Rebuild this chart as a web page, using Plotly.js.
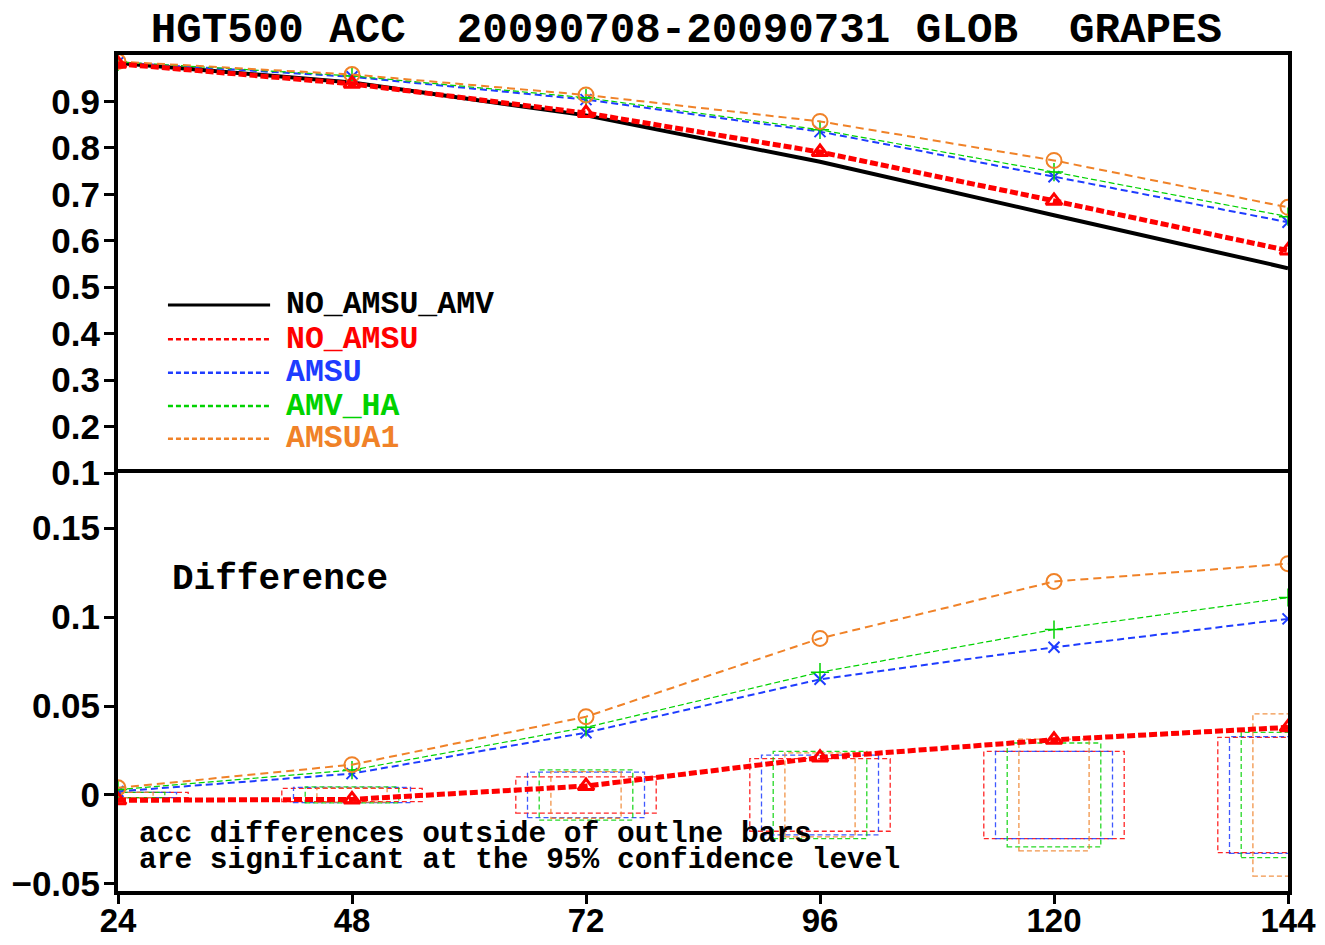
<!DOCTYPE html>
<html>
<head>
<meta charset="utf-8">
<script src="https://cdn.plot.ly/plotly-3.0.1.min.js"></script>
<style>
  html, body { margin: 0; padding: 0; background: #ffffff; }
  #chart { width: 1325px; height: 945px; }
</style>
</head>
<body>
<div id="chart"></div>
<script>
// Forecast lead times (hours)
const leads = [24, 48, 72, 96, 120, 144];

// Anomaly correlation of 500 hPa height for each experiment
const accNoAmsuAmv = [0.983, 0.941, 0.870, 0.770, 0.655, 0.541];
const accNoAmsu    = [0.981, 0.938, 0.875, 0.791, 0.686, 0.579];
const accAmsu      = [0.984, 0.953, 0.904, 0.835, 0.738, 0.640];
const accAmvHa     = [0.985, 0.955, 0.908, 0.839, 0.748, 0.652];
const accAmsua1    = [0.986, 0.958, 0.914, 0.857, 0.773, 0.672];

// Differences from the NO_AMSU_AMV run
const diffNoAmsu   = [-0.003, -0.0025, 0.005, 0.021, 0.031, 0.038];
const diffAmsu     = [0.002, 0.012, 0.035, 0.065, 0.083, 0.099];
const diffAmvHa    = [0.003, 0.014, 0.038, 0.069, 0.093, 0.111];
const diffAmsua1   = [0.004, 0.017, 0.044, 0.088, 0.120, 0.130];

// 95% confidence half-ranges (outline bars centred on zero)
const confNoAmsu   = [0.0015, 0.0037, 0.0102, 0.0204, 0.0245, 0.0324];
const confAmsu     = [0.0015, 0.0043, 0.0128, 0.0224, 0.0245, 0.0328];
const confAmvHa    = [0.0015, 0.0045, 0.0141, 0.0245, 0.0292, 0.0352];
const confAmsua1   = [0.0015, 0.0040, 0.0131, 0.0236, 0.0314, 0.0456];

// Series names and axis ticks
const names = ["NO_AMSU_AMV", "NO_AMSU", "AMSU", "AMV_HA", "AMSUA1"];
const accTicks  = [0.1, 0.2, 0.3, 0.4, 0.5, 0.6, 0.7, 0.8, 0.9];
const diffTicks = [-0.05, 0, 0.05, 0.1, 0.15];

const C = {
  black:  "#000000",
  red:    "#ff0000",
  blue:   "#1e3cff",
  green:  "#00d200",
  orange: "#f08228"
};

const styles = {
  "NO_AMSU_AMV": { color: C.black,  width: 4,   dash: "solid",   symbol: null },
  "NO_AMSU":     { color: C.red,    width: 5,   dash: "8px,3px", symbol: "triangle-up-open", msize: 14, mline: 3 },
  "AMSU":        { color: C.blue,   width: 2,   dash: "7px,4px", symbol: "x-thin-open",      msize: 11, mline: 2 },
  "AMV_HA":      { color: C.green,  width: 1.2, dash: "6px,3px", symbol: "cross-thin-open",  msize: 13, mline: 1.5 },
  "AMSUA1":      { color: C.orange, width: 2,   dash: "8px,5px", symbol: "circle-open",      msize: 15, mline: 2 }
};

function line(name, x, y, xa, ya) {
  const s = styles[name];
  const tr = {
    type: "scatter", x: x, y: y, xaxis: xa, yaxis: ya, name: name,
    mode: s.symbol ? "lines+markers" : "lines",
    line: { color: s.color, width: s.width, dash: s.dash },
    showlegend: false, hoverinfo: "skip"
  };
  if (s.symbol) {
    tr.marker = { symbol: s.symbol, size: s.msize, color: s.color,
                  line: { color: s.color, width: s.mline } };
  }
  return tr;
}

const traces = [
  // upper panel: ACC
  line("NO_AMSU_AMV", leads, accNoAmsuAmv, "x2", "y2"),
  line("AMSU",        leads, accAmsu,      "x2", "y2"),
  line("AMV_HA",      leads, accAmvHa,     "x2", "y2"),
  line("AMSUA1",      leads, accAmsua1,    "x2", "y2"),
  line("NO_AMSU",     leads, accNoAmsu,    "x2", "y2"),
  // lower panel: differences
  line("AMSU",        leads, diffAmsu,     "x", "y"),
  line("AMV_HA",      leads, diffAmvHa,    "x", "y"),
  line("AMSUA1",      leads, diffAmsua1,   "x", "y"),
  line("NO_AMSU",     leads, diffNoAmsu,   "x", "y")
];

// Outline bars: one dashed box per experiment and lead time,
// nested horizontally around the lead time (half-width in hours).
const boxSets = [
  { conf: confNoAmsu, color: C.red,    half: 7.2 },
  { conf: confAmsu,   color: C.blue,   half: 6.0 },
  { conf: confAmvHa,  color: C.green,  half: 4.8 },
  { conf: confAmsua1, color: C.orange, half: 3.6 }
];
const shapes = [];
boxSets.forEach(b => {
  leads.forEach((t, i) => {
    shapes.push({
      type: "rect", xref: "x", yref: "y", layer: "below",
      x0: t - b.half, x1: t + b.half, y0: -b.conf[i], y1: b.conf[i],
      line: { color: b.color, width: 1.3, dash: "5px,3px" },
      opacity: 0.85, fillcolor: "rgba(0,0,0,0)"
    });
  });
});

// Key in the upper panel: sample line plus coloured label
const keyRows = [0.701, 0.660, 0.620, 0.580, 0.541];
const keyColors = [C.black, C.red, C.blue, C.green, C.orange];
const keyDash = ["solid", "5px,3px", "5px,3px", "5px,3px", "5px,3px"];
const annotations = [];
names.forEach((n, i) => {
  shapes.push({
    type: "line", xref: "paper", yref: "paper", layer: "above",
    x0: 0.0427, x1: 0.130, y0: keyRows[i], y1: keyRows[i],
    line: { color: keyColors[i], width: i === 0 ? 3 : 2.5, dash: keyDash[i] }
  });
  annotations.push({
    xref: "paper", yref: "paper", x: 0.1415, y: keyRows[i],
    xanchor: "left", yanchor: "middle", showarrow: false, text: n,
    font: { family: "Liberation Mono", size: 31.5, color: keyColors[i], weight: "bold" }
  });
});

annotations.push({
  xref: "paper", yref: "paper", x: 0.0444, y: 0.373,
  xanchor: "left", yanchor: "middle", showarrow: false, text: "Difference",
  font: { family: "Liberation Mono", size: 36, color: "#000", weight: "bold" }
});
annotations.push({
  xref: "paper", yref: "paper", x: 0.0165, y: 0.068,
  xanchor: "left", yanchor: "middle", showarrow: false,
  text: "acc differences outside of outlne bars",
  font: { family: "Liberation Mono", size: 29.5, color: "#000", weight: "bold" }
});
annotations.push({
  xref: "paper", yref: "paper", x: 0.0165, y: 0.0375,
  xanchor: "left", yanchor: "middle", showarrow: false,
  text: "are significant at the 95% confidence level",
  font: { family: "Liberation Mono", size: 29.5, color: "#000", weight: "bold" }
});

const tickFont = { family: "Liberation Sans", size: 35, color: "#000", weight: "bold" };

const layout = {
  width: 1325, height: 945,
  margin: { l: 118, r: 37, t: 55, b: 54 },
  paper_bgcolor: "#ffffff", plot_bgcolor: "#ffffff",
  showlegend: false,
  title: {
    text: "HGT500 ACC  20090708-20090731 GLOB  GRAPES",
    x: 0.518, xanchor: "center", y: 0.971, yanchor: "middle",
    font: { family: "Liberation Mono", size: 42.5, color: "#000", weight: "bold" }
  },
  xaxis: {
    anchor: "y", domain: [0, 1], range: [24, 144],
    tickvals: leads, ticktext: leads.map(String),
    ticks: "outside", ticklen: 9, tickwidth: 3, tickcolor: "#000",
    ticklabelstandoff: -12,
    showline: true, linewidth: 4, linecolor: "#000", mirror: true,
    showgrid: false, zeroline: false,
    tickfont: { family: "Liberation Sans", size: 33, color: "#000", weight: "bold" }
  },
  xaxis2: {
    anchor: "y2", domain: [0, 1], range: [24, 144], matches: "x", side: "top",
    showticklabels: false, ticks: "",
    showline: true, linewidth: 4, linecolor: "#000", mirror: false,
    showgrid: false, zeroline: false
  },
  yaxis: {
    anchor: "x", domain: [0, 0.5], range: [-0.054, 0.181],
    tickvals: diffTicks, ticktext: ["\u22120.05", "0", "0.05", "0.1", "0.15"],
    ticks: "outside", ticklen: 10, tickwidth: 3, tickcolor: "#000",
    ticklabelstandoff: -3,
    showline: true, linewidth: 4, linecolor: "#000", mirror: true,
    showgrid: false, zeroline: false, tickfont: tickFont
  },
  yaxis2: {
    anchor: "x2", domain: [0.5, 1], range: [0.1, 1.0],
    tickvals: accTicks, ticktext: accTicks.map(v => v.toFixed(1)),
    ticks: "outside", ticklen: 10, tickwidth: 3, tickcolor: "#000",
    ticklabelstandoff: -3,
    showline: true, linewidth: 4, linecolor: "#000", mirror: true,
    showgrid: false, zeroline: false, tickfont: tickFont
  },
  shapes: shapes,
  annotations: annotations
};

Plotly.newPlot("chart", traces, layout, { staticPlot: true, displayModeBar: false });
</script>
</body>
</html>
